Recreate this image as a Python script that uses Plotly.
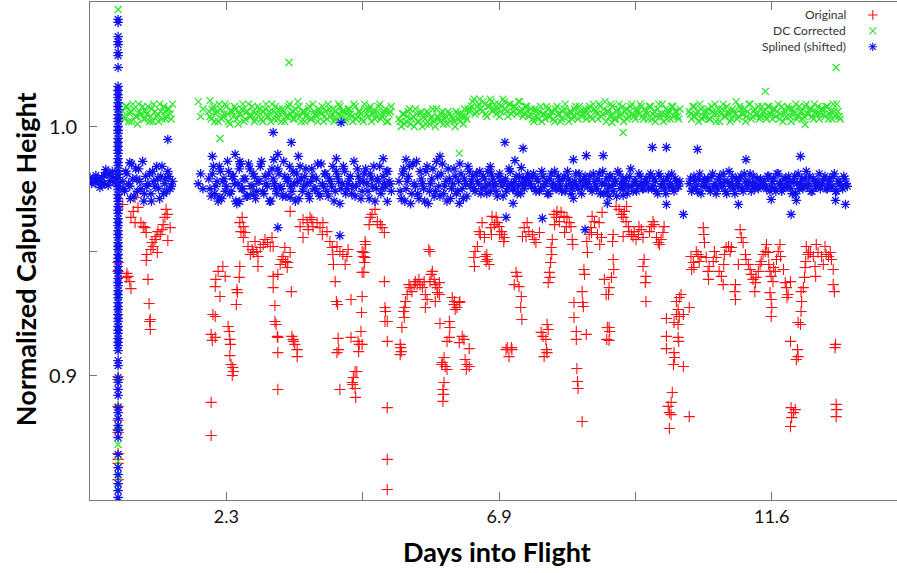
import plotly.graph_objects as go

# ---------------- data (days into flight, normalized height) ----------------
spike_day = 0.48

red_spike_vals = [0.9454, 0.9418, 0.8996, 0.8984, 0.8876, 0.8820, 0.8783, 0.8771, 0.8687, 0.8663, 0.8647, 0.8582]
green_spike_vals = [1.0470, 0.9940, 0.9514, 0.9426, 0.9321, 0.9253, 0.9197, 0.9145, 0.8984, 0.8876, 0.8791, 0.8723, 0.8655, 0.8594, 0.8550]
blue_spike_vals = [1.0430, 1.0418, 1.0361, 1.0341, 1.0329, 1.0297, 1.0285, 1.0237, 1.0161, 1.0145, 1.0128, 1.0116, 1.0096, 1.0080,
                   1.0068, 1.0048, 1.0032, 1.0020, 1.0000, 0.9984, 0.9972, 0.9952, 0.9936, 0.9920, 0.9904, 0.9892, 0.9871, 0.9855,
                   0.9843, 0.9823, 0.9807, 0.9795, 0.9775, 0.9759, 0.9747, 0.9727, 0.9711, 0.9699, 0.9679, 0.9663, 0.9651, 0.9630,
                   0.9614, 0.9602, 0.9582, 0.9566, 0.9554, 0.9534, 0.9518, 0.9506, 0.9486, 0.9470, 0.9458, 0.9438, 0.9422, 0.9410,
                   0.9390, 0.9373, 0.9361, 0.9341, 0.9325, 0.9313, 0.9293, 0.9277, 0.9265, 0.9245, 0.9229, 0.9217, 0.9197, 0.9181,
                   0.9169, 0.9149, 0.9133, 0.9120, 0.9100, 0.9060, 0.9040, 0.8992, 0.8972, 0.8944, 0.8920, 0.8871, 0.8851, 0.8827,
                   0.8799, 0.8779, 0.8751, 0.8683, 0.8630, 0.8602, 0.8566, 0.8538, 0.8510]

blue_left_days = [0.00, 0.03, 0.07, 0.10, 0.14, 0.17, 0.21, 0.24, 0.27, 0.31, 0.34, 0.38, 0.41, 0.44, 0.10, 0.17, 0.24, 0.31, 0.38, 0.05, 0.20, 0.28]
blue_left_vals = [0.9795, 0.9771, 0.9787, 0.9775, 0.9791, 0.9779, 0.9767, 0.9803, 0.9827, 0.9811, 0.9783, 0.9799, 0.9775, 0.9791,
                  0.9803, 0.9755, 0.9771, 0.9763, 0.9819, 0.9783, 0.9795, 0.9815]

red_a_days = [0.56, 0.77, 0.82, 0.74, 0.70, 0.77, 0.87, 0.91, 0.94, 0.96, 1.30, 1.32, 1.28, 1.37, 1.25, 1.16, 1.13, 1.11, 1.20,
              1.08, 1.04, 1.15, 0.97, 0.96, 1.33, 0.65, 0.68, 0.70, 0.99, 1.01, 1.03, 1.02, 1.03, 0.62, 0.63, 1.06, 1.23]
red_a_vals = [0.9687, 0.9715, 0.9675, 0.9659, 0.9635, 0.9614, 0.9614, 0.9598, 0.9594, 0.9574, 0.9667, 0.9647, 0.9635, 0.9594,
              0.9606, 0.9578, 0.9558, 0.9546, 0.9566, 0.9518, 0.9506, 0.9494, 0.9486, 0.9462, 0.9542, 0.9398, 0.9377, 0.9349,
              0.9386, 0.9289, 0.9225, 0.9217, 0.9185, 0.9394, 0.9410, 0.9534, 0.9586]

red_b_days = [2.27, 2.19, 2.31, 2.15, 2.14, 2.22, 2.10, 2.14, 2.07, 2.14, 2.09, 2.07, 2.07, 2.56, 2.58, 2.56, 2.55, 2.51, 2.52, 2.50,
              2.36, 2.38, 2.39, 2.40, 2.39, 2.41, 2.44, 2.45, 2.43, 2.60, 2.62, 2.65, 2.62, 2.70, 2.77, 2.74, 2.79, 2.85, 2.82, 2.91,
              2.87, 2.96, 3.03, 3.08, 2.99, 3.11, 3.13, 2.87, 3.42, 3.33, 3.30, 3.28, 3.34, 3.38, 3.37, 3.25, 3.42, 3.13, 3.21, 3.13,
              3.44, 3.16, 3.16, 3.18, 3.20, 3.21, 3.21, 3.21, 3.45, 3.47, 3.50, 3.54, 3.54, 3.48, 3.59, 3.64, 3.71, 3.76, 3.81, 3.88,
              3.93, 3.98, 4.05, 3.73, 3.64, 3.97, 3.79, 4.10, 4.14, 4.15, 4.16, 4.22, 4.27, 4.32, 4.39, 4.36, 4.41, 4.19, 4.21, 4.23,
              4.24, 4.25, 4.22, 4.27, 4.46, 4.46, 4.50, 4.48, 4.53, 4.56, 4.49, 4.53, 4.54, 4.58, 4.60, 4.59, 4.65, 4.67, 4.65, 4.65,
              4.64, 4.63, 4.87, 4.82, 4.79, 4.91, 4.96, 4.99, 5.03, 4.77, 4.70, 4.71, 4.68, 4.70, 4.69, 4.68, 4.65, 5.03, 5.04, 5.05,
              5.04, 5.08, 5.08, 5.08, 5.08, 5.08]
red_b_vals = [0.9438, 0.9418, 0.9398, 0.9386, 0.9357, 0.9317, 0.9245, 0.9237, 0.9165, 0.9153, 0.9141, 0.8892, 0.8759, 0.9614,
              0.9578, 0.9438, 0.9394, 0.9345, 0.9333, 0.9285, 0.9197, 0.9177, 0.9145, 0.9125, 0.9080, 0.9044, 0.9032, 0.9016,
              0.9000, 0.9635, 0.9598, 0.9574, 0.9554, 0.9518, 0.9506, 0.9486, 0.9494, 0.9498, 0.9538, 0.9514, 0.9478, 0.9526,
              0.9534, 0.9518, 0.9546, 0.9554, 0.9518, 0.9438, 0.9659, 0.9514, 0.9478, 0.9466, 0.9458, 0.9454, 0.9434, 0.9446,
              0.9494, 0.9398, 0.9406, 0.9353, 0.9337, 0.9281, 0.9217, 0.9205, 0.9157, 0.9153, 0.9092, 0.8944, 0.9157, 0.9145,
              0.9125, 0.9104, 0.9076, 0.9137, 0.9598, 0.9626, 0.9614, 0.9635, 0.9598, 0.9614, 0.9594, 0.9614, 0.9578, 0.9586,
              0.9554, 0.9566, 0.9626, 0.9538, 0.9514, 0.9486, 0.9446, 0.9518, 0.9498, 0.9486, 0.9478, 0.9446, 0.9506, 0.9377,
              0.9297, 0.9285, 0.9149, 0.9104, 0.9092, 0.8944, 0.9305, 0.9153, 0.8992, 0.8972, 0.9016, 0.9016, 0.8964, 0.8948,
              0.8912, 0.9137, 0.9125, 0.9096, 0.9498, 0.9478, 0.9414, 0.9317, 0.9253, 0.9177, 0.9667, 0.9647, 0.9635, 0.9618,
              0.9606, 0.9594, 0.9574, 0.9606, 0.9538, 0.9526, 0.9494, 0.9474, 0.9454, 0.9414, 0.9125, 0.9377, 0.9273, 0.9257,
              0.9217, 0.9217, 0.9137, 0.8871, 0.8663, 0.8542]

red_c_days = [5.33, 5.37, 5.36, 5.38, 5.39, 5.42, 5.45, 5.47, 5.50, 5.54, 5.56, 5.59, 5.62, 5.64, 5.68, 5.71, 5.73, 5.76, 5.73, 5.30,
              5.31, 5.32, 5.30, 5.79, 5.81, 5.85, 5.83, 5.88, 5.81, 5.90, 5.93, 5.97, 5.94, 5.90, 5.97, 5.98, 6.14, 6.15, 6.14, 6.10,
              6.19, 6.22, 6.24, 6.31, 6.27, 6.32, 6.23, 6.05, 6.02, 6.07, 6.01, 6.10, 6.05, 6.03, 6.04, 6.03, 6.36, 6.39, 6.31, 6.48,
              6.41, 6.44, 6.48, 6.43, 6.67, 6.65, 6.62, 6.58, 6.56, 6.57, 6.70, 6.75, 6.77, 6.78, 6.79, 6.82, 6.74, 6.87, 6.94, 6.91,
              6.96, 6.99, 7.03, 7.04, 7.08, 7.07, 6.85, 6.86, 7.00, 7.28, 7.30, 7.25, 7.33, 7.37, 7.36, 7.38, 7.13, 7.20, 7.21, 7.16,
              7.11, 7.42, 7.47, 7.45, 7.50, 7.56, 7.59, 7.62, 7.68, 7.39, 7.90, 7.88, 7.89, 7.87, 7.85, 7.86, 7.83, 7.71, 7.74, 7.79,
              7.81, 7.83, 7.81, 7.80, 7.76, 7.93, 7.98, 8.05, 7.97, 8.02, 8.10, 8.14, 8.19, 8.15, 8.22, 8.11, 7.94, 8.24, 8.25, 8.27,
              8.27, 8.31, 8.31, 8.48, 8.32, 8.33, 8.34, 8.41, 8.41, 8.42, 8.43, 8.44, 8.45, 8.50, 8.49, 8.53, 8.56, 8.62, 8.58, 8.70,
              8.67, 8.71, 8.74, 8.75, 8.57, 8.79, 8.82, 8.84, 8.83, 8.99, 9.04, 9.08, 9.13, 9.11, 9.16, 9.20, 9.21, 9.25, 9.28, 9.33,
              9.30, 9.38, 9.42, 9.37, 9.45, 9.56, 9.59, 9.62, 9.64, 9.68, 9.71, 9.73, 9.76, 9.79, 9.81, 9.17, 8.94, 8.93, 9.11, 8.94,
              8.95, 8.91, 8.87, 8.86, 8.87, 8.88, 8.87, 9.47, 9.45, 9.50, 9.49, 9.50, 10.02, 10.07, 10.10, 10.05, 10.02, 10.07, 10.14, 9.98,
              10.05, 9.85, 10.24, 9.85, 10.05, 10.06, 9.85, 9.98, 9.99, 9.97, 10.14, 9.95, 9.93, 9.88, 9.90, 9.93, 9.90, 10.24, 10.27, 10.31,
              10.32, 10.36, 10.39, 10.41, 10.48, 10.49, 10.50, 10.44, 10.53, 10.56, 10.57, 10.58, 10.65, 10.67, 10.70, 10.75, 10.79, 10.82,
              10.84, 10.87, 10.91, 10.83, 10.28, 10.96, 10.94, 11.11, 11.13, 11.16, 11.20, 11.21, 11.25, 11.28, 11.30, 11.33, 11.37, 11.38,
              11.36, 11.08, 11.42, 11.45, 11.47, 11.50, 11.54, 11.56, 11.59, 11.03, 11.02, 11.03, 11.60, 11.62, 11.64, 11.68, 11.67, 11.71,
              11.62, 11.64, 11.65, 11.64, 11.79, 11.76, 11.80, 11.73, 11.85, 11.88, 11.90, 11.93, 11.91, 11.97, 11.97, 12.09, 12.10, 12.07,
              12.15, 12.19, 12.16, 12.15, 12.10, 12.14, 12.21, 12.22, 12.23, 12.24, 12.27, 12.31, 12.36, 12.39, 12.41, 12.44, 12.50, 12.53,
              12.56, 12.58, 12.62, 12.65, 12.67, 12.70, 12.40, 12.28, 12.70, 12.72, 12.74, 12.73, 11.98, 12.02, 11.99, 12.05, 11.97, 12.75,
              12.76, 12.75]
red_c_vals = [0.9193, 0.9233, 0.9257, 0.9273, 0.9297, 0.9325, 0.9365, 0.9353, 0.9337, 0.9365, 0.9377, 0.9365, 0.9386, 0.9365,
              0.9353, 0.9377, 0.9325, 0.9305, 0.9273, 0.9125, 0.9112, 0.9096, 0.9084, 0.9506, 0.9498, 0.9418, 0.9406, 0.9386,
              0.9377, 0.9365, 0.9353, 0.9373, 0.9333, 0.9297, 0.9325, 0.9209, 0.9217, 0.9193, 0.9153, 0.9137, 0.9313, 0.9285,
              0.9265, 0.9293, 0.9273, 0.9297, 0.9297, 0.9072, 0.9052, 0.9036, 0.9044, 0.9024, 0.8972, 0.8944, 0.8924, 0.8896,
              0.9157, 0.9145, 0.9132, 0.9108, 0.9064, 0.9044, 0.9036, 0.9024, 0.9566, 0.9578, 0.9518, 0.9498, 0.9474, 0.9438,
              0.9614, 0.9478, 0.9458, 0.9486, 0.9466, 0.9446, 0.9554, 0.9639, 0.9635, 0.9606, 0.9614, 0.9598, 0.9578, 0.9566,
              0.9554, 0.9538, 0.9594, 0.9566, 0.9566, 0.9414, 0.9398, 0.9365, 0.9357, 0.9317, 0.9273, 0.9225, 0.9112, 0.9112,
              0.9104, 0.9076, 0.9104, 0.9594, 0.9614, 0.9558, 0.9578, 0.9566, 0.9546, 0.9534, 0.9574, 0.9558, 0.9546, 0.9514,
              0.9486, 0.9454, 0.9414, 0.9394, 0.9373, 0.9173, 0.9157, 0.9145, 0.9205, 0.9185, 0.9092, 0.9104, 0.9076, 0.9647,
              0.9659, 0.9655, 0.9635, 0.9618, 0.9639, 0.9598, 0.9614, 0.9635, 0.9598, 0.9574, 0.9606, 0.9546, 0.9526, 0.9293,
              0.9233, 0.9177, 0.9145, 0.9165, 0.9028, 0.8976, 0.8948, 0.8815, 0.9337, 0.9293, 0.9277, 0.9426, 0.9406, 0.9494,
              0.9538, 0.9566, 0.9594, 0.9618, 0.9639, 0.9614, 0.9566, 0.9526, 0.9554, 0.9655, 0.9574, 0.9386, 0.9325, 0.9193,
              0.9145, 0.9679, 0.9667, 0.9647, 0.9659, 0.9635, 0.9618, 0.9598, 0.9578, 0.9566, 0.9558, 0.9546, 0.9578, 0.9598,
              0.9586, 0.9566, 0.9554, 0.9578, 0.9598, 0.9618, 0.9606, 0.9554, 0.9534, 0.9526, 0.9546, 0.9574, 0.9598, 0.9679,
              0.9566, 0.9538, 0.9558, 0.9466, 0.9426, 0.9394, 0.9353, 0.9325, 0.9193, 0.9177, 0.9141, 0.9466, 0.9438, 0.9398,
              0.9373, 0.9297, 0.9297, 0.9313, 0.9325, 0.9265, 0.9245, 0.9237, 0.9245, 0.9213, 0.9205, 0.9229, 0.9273, 0.9157,
              0.9153, 0.9137, 0.9108, 0.9092, 0.9072, 0.9044, 0.9036, 0.8932, 0.8892, 0.8876, 0.8851, 0.8843, 0.8787, 0.8835,
              0.9478, 0.9454, 0.9434, 0.9498, 0.9486, 0.9458, 0.9594, 0.9566, 0.9534, 0.9478, 0.9474, 0.9418, 0.9386, 0.9438,
              0.9458, 0.9498, 0.9474, 0.9418, 0.9398, 0.9365, 0.9486, 0.9514, 0.9518, 0.9446, 0.9426, 0.9514, 0.9498, 0.9586,
              0.9554, 0.9534, 0.9486, 0.9466, 0.9446, 0.9426, 0.9406, 0.9386, 0.9373, 0.9394, 0.9337, 0.9446, 0.9418, 0.9446,
              0.9458, 0.9486, 0.9498, 0.9526, 0.9494, 0.9365, 0.9337, 0.9305, 0.9446, 0.9418, 0.9398, 0.9434, 0.9377, 0.9418,
              0.9333, 0.9305, 0.9273, 0.9237, 0.9526, 0.9498, 0.9478, 0.9466, 0.9426, 0.9373, 0.9353, 0.9325, 0.9313, 0.9377,
              0.9137, 0.9104, 0.9076, 0.9064, 0.9337, 0.9353, 0.9297, 0.9257, 0.9213, 0.9205, 0.9394, 0.9434, 0.9458, 0.9518,
              0.9486, 0.9494, 0.9478, 0.9438, 0.9526, 0.9494, 0.9478, 0.9446, 0.9518, 0.9486, 0.9478, 0.9494, 0.9466, 0.9426,
              0.9398, 0.9494, 0.9365, 0.9337, 0.9125, 0.9112, 0.8871, 0.8851, 0.8831, 0.8863, 0.8795, 0.8884, 0.8863, 0.8835]

# regular band samples (DC corrected = green, splined = blue)
band_a_days = [0.56, 0.59, 0.63, 0.68, 0.71, 0.75, 0.80, 0.83, 0.87, 0.92, 0.95, 0.99, 1.04, 1.07, 1.11, 1.16, 1.19, 1.23, 1.28, 1.31, 1.35, 1.39,
               0.58, 0.61, 0.66, 0.69, 0.73, 0.78, 0.81, 0.85, 0.90, 0.93, 0.97, 1.02, 1.05, 1.09, 1.14, 1.17, 1.21, 1.26, 1.29, 1.33, 1.37, 1.41]
green_a_vals = [1.006, 1.003, 1.008, 1.005, 1.002, 1.007, 1.004, 1.009, 1.005, 1.003, 1.006, 1.008, 1.004, 1.002, 1.006, 1.005, 1.009, 1.003, 1.006, 1.004, 1.007, 1.003,
                1.004, 1.008, 1.002, 1.006, 1.009, 1.004, 1.001, 1.006, 1.008, 1.003, 1.005, 1.002, 1.007, 1.009, 1.004, 1.002, 1.006, 1.008, 1.003, 1.007, 1.005, 1.009]
blue_a_vals = [0.978, 0.974, 0.981, 0.976, 0.985, 0.972, 0.979, 0.983, 0.975, 0.970, 0.980, 0.977, 0.973, 0.982, 0.976, 0.979, 0.971, 0.984, 0.977, 0.974, 0.980, 0.976,
               0.975, 0.982, 0.977, 0.971, 0.979, 0.983, 0.974, 0.978, 0.986, 0.973, 0.976, 0.981, 0.970, 0.978, 0.984, 0.975, 0.980, 0.973, 0.979, 0.982, 0.975, 0.978]

band_b_days = [1.85, 1.89, 1.93,
               2.03, 2.07, 2.11, 2.15, 2.19, 2.23, 2.27, 2.31, 2.35, 2.39, 2.43, 2.47, 2.51, 2.55, 2.59, 2.63, 2.67, 2.71, 2.75, 2.79,
               2.83, 2.87, 2.91, 2.95, 2.99, 3.03, 3.07, 3.11, 3.15, 3.19, 3.23, 3.27, 3.31, 3.35, 3.39, 3.43, 3.47, 3.51, 3.55, 3.59,
               3.63, 3.67, 3.71, 3.75, 3.79, 3.83, 3.87, 3.91, 3.95, 3.99, 4.03, 4.07, 4.11, 4.15, 4.19, 4.23, 4.27, 4.31, 4.35, 4.39,
               4.43, 4.47, 4.51, 4.55, 4.59, 4.63, 4.67, 4.71, 4.75, 4.79, 4.83, 4.87, 4.91, 4.95, 4.99, 5.03, 5.07, 5.11, 5.15]
green_b_vals = [1.010, 1.004, 1.007,
                1.006, 1.003, 1.008, 1.005, 1.002, 1.007, 1.004, 1.009, 1.005, 1.001, 1.006, 1.008, 1.003, 1.005, 1.007, 1.002, 1.006,
                1.009, 1.004, 1.006, 1.003, 1.008, 1.005, 1.002, 1.007, 1.004, 1.006, 1.009, 1.003, 1.005, 1.007, 1.002, 1.006, 1.004,
                1.008, 1.005, 1.003, 1.007, 1.010, 1.004, 1.006, 1.002, 1.005, 1.008, 1.003, 1.006, 1.004, 1.007, 1.005, 1.002, 1.006,
                1.009, 1.004, 1.007, 1.003, 1.005, 1.008, 1.006, 1.002, 1.005, 1.007, 1.004, 1.009, 1.003, 1.006, 1.005, 1.002, 1.007,
                1.004, 1.008, 1.005, 1.003, 1.006, 1.009, 1.004, 1.006, 1.002, 1.005, 1.008]
blue_b_vals = [0.977, 0.981, 0.975,
               0.979, 0.972, 0.984, 0.976, 0.970, 0.982, 0.978, 0.974, 0.986, 0.973, 0.980, 0.977, 0.969, 0.983, 0.975, 0.979, 0.972,
               0.985, 0.976, 0.981, 0.971, 0.978, 0.984, 0.974, 0.980, 0.976, 0.970, 0.983, 0.977, 0.973, 0.981, 0.975, 0.986, 0.972,
               0.979, 0.976, 0.982, 0.970, 0.978, 0.984, 0.974, 0.980, 0.977, 0.971, 0.983, 0.975, 0.979, 0.973, 0.985, 0.976, 0.981,
               0.972, 0.978, 0.984, 0.974, 0.980, 0.969, 0.977, 0.982, 0.975, 0.979, 0.973, 0.986, 0.976, 0.980, 0.971, 0.978, 0.983,
               0.974, 0.981, 0.976, 0.970, 0.979, 0.984, 0.975, 0.977, 0.982, 0.978, 0.974]

band_b2_days = [2.05, 2.09, 2.13, 2.17, 2.21, 2.25, 2.29, 2.33, 2.37, 2.41, 2.45, 2.49, 2.53, 2.57, 2.61, 2.65, 2.69, 2.73, 2.77, 2.81,
                2.85, 2.89, 2.93, 2.97, 3.01, 3.05, 3.09, 3.13, 3.17, 3.21, 3.25, 3.29, 3.33, 3.37, 3.41, 3.45, 3.49, 3.53, 3.57, 3.61,
                3.65, 3.69, 3.73, 3.77, 3.81, 3.85, 3.89, 3.93, 3.97, 4.01, 4.05, 4.09, 4.13, 4.17, 4.21, 4.25, 4.29, 4.33, 4.37, 4.41,
                4.45, 4.49, 4.53, 4.57, 4.61, 4.65, 4.69, 4.73, 4.77, 4.81, 4.85, 4.89, 4.93, 4.97, 5.01, 5.05, 5.09, 5.13]
green_b2_vals = [1.004, 1.007, 1.002, 1.006, 1.009, 1.003, 1.005, 1.008, 1.002, 1.006,
                 1.004, 1.007, 1.001, 1.005, 1.009, 1.003, 1.006, 1.004, 1.008, 1.002,
                 1.005, 1.007, 1.003, 1.006, 1.009, 1.004, 1.002, 1.006, 1.008, 1.003,
                 1.005, 1.007, 1.002, 1.004, 1.009, 1.006, 1.003, 1.005, 1.008, 1.002,
                 1.006, 1.004, 1.007, 1.003, 1.009, 1.005, 1.002, 1.006, 1.008, 1.004,
                 1.003, 1.007, 1.005, 1.002, 1.006, 1.009, 1.004, 1.006, 1.003, 1.007,
                 1.005, 1.002, 1.008, 1.004, 1.006, 1.003, 1.009, 1.005, 1.007, 1.002,
                 1.006, 1.004, 1.008, 1.003, 1.005, 1.007, 1.002, 1.006]
blue_b2_vals = [0.975, 0.981, 0.973, 0.978, 0.984, 0.971, 0.979, 0.976, 0.982, 0.974,
                0.980, 0.970, 0.977, 0.985, 0.975, 0.979, 0.972, 0.983, 0.976, 0.980,
                0.974, 0.978, 0.986, 0.973, 0.977, 0.981, 0.970, 0.979, 0.975, 0.983,
                0.976, 0.972, 0.980, 0.978, 0.984, 0.974, 0.977, 0.981, 0.971, 0.979,
                0.976, 0.983, 0.973, 0.978, 0.980, 0.975, 0.985, 0.972, 0.977, 0.981,
                0.974, 0.979, 0.976, 0.970, 0.982, 0.978, 0.975, 0.984, 0.973, 0.977,
                0.980, 0.976, 0.972, 0.983, 0.978, 0.974, 0.981, 0.977, 0.971, 0.979,
                0.984, 0.975, 0.978, 0.973, 0.980, 0.976, 0.982, 0.977]

band_c_days = [5.28, 5.32, 5.36, 5.40, 5.44, 5.48, 5.52, 5.56, 5.60, 5.64, 5.68, 5.72, 5.76, 5.80, 5.84, 5.88, 5.92, 5.96, 6.00, 6.04,
               6.08, 6.12, 6.16, 6.20, 6.24, 6.28, 6.32, 6.36, 6.40, 6.44, 6.48,
               6.52, 6.56, 6.60, 6.64, 6.68, 6.72, 6.76, 6.80, 6.84, 6.88, 6.92, 6.96, 7.00, 7.04, 7.08, 7.12, 7.16, 7.20, 7.24, 7.28,
               7.32, 7.36, 7.40, 7.44, 7.48,
               7.52, 7.56, 7.60, 7.64, 7.68, 7.72, 7.76, 7.80, 7.84, 7.88, 7.92, 7.96, 8.00, 8.04, 8.08, 8.12, 8.16, 8.20, 8.24, 8.28,
               8.32, 8.36, 8.40, 8.44, 8.48,
               8.52, 8.56, 8.60, 8.64, 8.68, 8.72, 8.76, 8.80, 8.84, 8.88, 8.92, 8.96, 9.00, 9.04, 9.08, 9.12, 9.16, 9.20, 9.24, 9.28,
               9.32, 9.36, 9.40, 9.44, 9.48,
               9.52, 9.56, 9.60, 9.64, 9.68, 9.72, 9.76, 9.80, 9.84, 9.88, 9.92, 9.96, 10.00, 10.04, 10.08,
               10.24, 10.28, 10.32, 10.36, 10.40, 10.44, 10.48,
               10.52, 10.56, 10.60, 10.64, 10.68, 10.72, 10.76, 10.80, 10.84, 10.88, 10.92, 10.96, 11.00, 11.04, 11.08, 11.12, 11.16,
               11.20, 11.24, 11.28, 11.32, 11.36, 11.40, 11.44, 11.48,
               11.52, 11.56, 11.60, 11.64, 11.68, 11.72, 11.76, 11.80, 11.84, 11.88, 11.92, 11.96, 12.00, 12.04, 12.08, 12.12, 12.16,
               12.20, 12.24, 12.28, 12.32, 12.36, 12.40, 12.44, 12.48,
               12.52, 12.56, 12.60, 12.64, 12.68, 12.72, 12.76, 12.80, 12.84, 12.88, 12.92]
green_c_vals = [1.003, 1.000, 1.005, 1.002, 1.006, 1.001, 1.004, 1.007, 1.002, 1.005, 1.000, 1.003, 1.006, 1.001, 1.004, 1.002,
                1.007, 1.003, 1.005, 1.001, 1.004, 1.006, 1.002, 1.003, 1.000, 1.005, 1.002, 1.004, 1.007, 1.003, 1.006,
                1.008, 1.011, 1.006, 1.009, 1.007, 1.010, 1.005, 1.008, 1.011, 1.006, 1.009, 1.007, 1.004, 1.008, 1.010, 1.006,
                1.009, 1.005, 1.008, 1.007, 1.010, 1.006, 1.004, 1.008, 1.006,
                1.005, 1.003, 1.007, 1.004, 1.006, 1.002, 1.005, 1.008, 1.004, 1.006, 1.003, 1.007, 1.005, 1.002, 1.006, 1.009,
                1.004, 1.006, 1.003, 1.007, 1.005, 1.008, 1.004, 1.006, 1.003,
                1.007, 1.004, 1.009, 1.006, 1.003, 1.008, 1.005, 1.010, 1.006, 1.004, 1.008, 1.003, 1.006, 1.009, 1.005, 1.002,
                1.007, 1.004, 1.008, 1.005, 1.003, 1.006, 1.009, 1.004, 1.007,
                1.005, 1.008, 1.003, 1.006, 1.004, 1.009, 1.005, 1.002, 1.007, 1.005, 1.003, 1.008, 1.006, 1.004, 1.007,
                1.006, 1.003, 1.008, 1.005, 1.002, 1.007, 1.004,
                1.004, 1.007, 1.003, 1.006, 1.009, 1.005, 1.002, 1.007, 1.004, 1.008, 1.005, 1.003, 1.006, 1.010, 1.004, 1.007,
                1.005, 1.002, 1.006, 1.009, 1.004, 1.007, 1.005, 1.003, 1.008,
                1.006, 1.003, 1.008, 1.005, 1.007, 1.004, 1.009, 1.005, 1.002, 1.006, 1.008, 1.004, 1.007, 1.005, 1.003, 1.008,
                1.006, 1.004, 1.009, 1.005, 1.007, 1.003, 1.006, 1.008, 1.005,
                1.007, 1.004, 1.008, 1.005, 1.003, 1.006, 1.009, 1.004, None, None, None]
blue_c_vals = [0.978, 0.971, 0.983, 0.975, 0.980, 0.969, 0.985, 0.976, 0.973, 0.982, 0.977, 0.970, 0.984, 0.974, 0.979, 0.972,
               0.986, 0.976, 0.981, 0.973, 0.978, 0.983, 0.971, 0.977, 0.980, 0.974, 0.985, 0.975, 0.979, 0.972, 0.982,
               0.978, 0.975, 0.981, 0.977, 0.973, 0.980, 0.976, 0.982, 0.974, 0.979, 0.977, 0.972, 0.981, 0.976, 0.978, 0.974,
               0.983, 0.977, 0.975, 0.980, 0.976, 0.973, 0.979, 0.977, 0.981,
               0.977, 0.980, 0.975, 0.979, 0.974, 0.982, 0.976, 0.978, 0.973, 0.981, 0.977, 0.975, 0.980, 0.976, 0.979, 0.974,
               0.982, 0.977, 0.975, 0.978, 0.976, 0.981, 0.973, 0.979, 0.977,
               0.978, 0.975, 0.981, 0.976, 0.979, 0.973, 0.982, 0.977, 0.974, 0.980, 0.976, 0.978, 0.972, 0.981, 0.977, 0.975,
               0.979, 0.976, 0.983, 0.974, 0.978, 0.976, 0.980, 0.975, 0.978,
               0.977, 0.980, 0.975, 0.979, 0.974, 0.981, 0.976, 0.978, 0.973, 0.980, 0.977, 0.975, 0.979, 0.976, 0.978,
               0.977, 0.974, 0.980, 0.976, 0.979, 0.973, 0.978,
               0.976, 0.979, 0.974, 0.981, 0.977, 0.975, 0.980, 0.976, 0.978, 0.973, 0.982, 0.977, 0.975, 0.979, 0.976, 0.980,
               0.974, 0.978, 0.976, 0.981, 0.977, 0.975, 0.979, 0.976, 0.978,
               0.978, 0.975, 0.980, 0.976, 0.979, 0.974, 0.981, 0.977, 0.975, 0.979, 0.976, 0.978, 0.973, 0.980, 0.977, 0.975,
               0.979, 0.976, 0.982, 0.977, 0.974, 0.979, 0.976, 0.978, 0.975,
               0.977, 0.980, 0.975, 0.979, 0.976, 0.981, 0.974, 0.978, 0.976, 0.980, 0.977]

band_c2_days = [5.30, 5.34, 5.38, 5.42, 5.46, 5.50, 5.54, 5.58, 5.62, 5.66, 5.70, 5.74, 5.78, 5.82, 5.86, 5.90, 5.94, 5.98, 6.02, 6.06,
                6.10, 6.14, 6.18, 6.22, 6.26, 6.30, 6.34, 6.38, 6.42, 6.46,
                6.50, 6.54, 6.58, 6.62, 6.66, 6.70, 6.74, 6.78, 6.82, 6.86, 6.90, 6.94, 6.98, 7.02, 7.06, 7.10, 7.14, 7.18, 7.22, 7.26,
                7.30, 7.34, 7.38, 7.42, 7.46,
                7.50, 7.54, 7.58, 7.62, 7.66, 7.70, 7.74, 7.78, 7.82, 7.86, 7.90, 7.94, 7.98, 8.02, 8.06, 8.10, 8.14, 8.18, 8.22, 8.26,
                8.30, 8.34, 8.38, 8.42, 8.46,
                8.50, 8.54, 8.58, 8.62, 8.66, 8.70, 8.74, 8.78, 8.82, 8.86, 8.90, 8.94, 8.98, 9.02, 9.06, 9.10, 9.14, 9.18, 9.22, 9.26,
                9.30, 9.34, 9.38, 9.42, 9.46,
                9.50, 9.54, 9.58, 9.62, 9.66, 9.70, 9.74, 9.78, 9.82, 9.86, 9.90, 9.94, 9.98, 10.02, 10.06,
                10.26, 10.30, 10.34, 10.38, 10.42, 10.46, 10.50,
                10.54, 10.58, 10.62, 10.66, 10.70, 10.74, 10.78, 10.82, 10.86, 10.90, 10.94, 10.98, 11.02, 11.06, 11.10, 11.14, 11.18,
                11.22, 11.26, 11.30, 11.34, 11.38, 11.42, 11.46, 11.50,
                11.54, 11.58, 11.62, 11.66, 11.70, 11.74, 11.78, 11.82, 11.86, 11.90, 11.94, 11.98, 12.02, 12.06, 12.10, 12.14, 12.18,
                12.22, 12.26, 12.30, 12.34, 12.38, 12.42, 12.46, 12.50,
                12.54, 12.58, 12.62, 12.66, 12.70, 12.74, 12.78, 12.82, 12.86, 12.90, 12.94]
green_c2_vals = [1.002, 1.005, 1.001, 1.004, 1.007, 1.003, 1.000, 1.005, 1.002, 1.006, 1.004, 1.001, 1.005, 1.003, 1.007, 1.000,
                 1.004, 1.002, 1.006, 1.003, 1.001, 1.005, 1.004, 1.002, 1.006, 1.003, 1.005, 1.001, 1.004, 1.007,
                 1.007, 1.010, 1.005, 1.008, 1.011, 1.006, 1.009, 1.004, 1.008, 1.010, 1.007, 1.005, 1.009, 1.006, 1.011, 1.007,
                 1.004, 1.009, 1.006, 1.008, 1.005, 1.010, 1.007, 1.005, 1.008,
                 1.004, 1.007, 1.002, 1.006, 1.003, 1.008, 1.005, 1.003, 1.007, 1.004, 1.006, 1.002, 1.008, 1.005, 1.003, 1.007,
                 1.005, 1.002, 1.006, 1.004, 1.008, 1.003, 1.006, 1.005, 1.007,
                 1.005, 1.008, 1.003, 1.007, 1.005, 1.009, 1.004, 1.007, 1.002, 1.006, 1.009, 1.005, 1.003, 1.007, 1.004, 1.008,
                 1.006, 1.003, 1.006, 1.009, 1.004, 1.007, 1.005, 1.008, 1.003,
                 1.006, 1.003, 1.008, 1.005, 1.002, 1.007, 1.004, 1.009, 1.005, 1.003, 1.006, 1.008, 1.004, 1.006, 1.003,
                 1.005, 1.008, 1.004, 1.006, 1.009, 1.003, 1.006,
                 1.006, 1.003, 1.008, 1.005, 1.002, 1.007, 1.005, 1.009, 1.004, 1.006, 1.002, 1.007, 1.005, 1.003, 1.008, 1.005,
                 1.007, 1.004, 1.009, 1.003, 1.006, 1.005, 1.008, 1.004, 1.006,
                 1.004, 1.008, 1.005, 1.003, 1.007, 1.006, 1.003, 1.008, 1.005, 1.004, 1.007, 1.002, 1.006, 1.009, 1.004, 1.006,
                 1.003, 1.008, 1.005, 1.007, 1.004, 1.009, 1.005, 1.003, 1.007,
                 1.005, 1.008, 1.003, 1.006, 1.009, 1.004, 1.006, 1.003, None, None, None]
blue_c2_vals = [0.974, 0.981, 0.970, 0.978, 0.984, 0.973, 0.977, 0.986, 0.971, 0.979, 0.975, 0.982, 0.969, 0.977, 0.983, 0.974,
                0.980, 0.972, 0.985, 0.976, 0.970, 0.979, 0.975, 0.983, 0.973, 0.978, 0.981, 0.971, 0.977, 0.984,
                0.976, 0.980, 0.974, 0.978, 0.982, 0.975, 0.979, 0.973, 0.977, 0.981, 0.976, 0.974, 0.980, 0.978, 0.972, 0.979,
                0.976, 0.982, 0.975, 0.978, 0.973, 0.980, 0.977, 0.975, 0.979,
                0.979, 0.976, 0.981, 0.974, 0.978, 0.975, 0.980, 0.977, 0.973, 0.979, 0.976, 0.982, 0.975, 0.978, 0.974, 0.980,
                0.976, 0.979, 0.973, 0.977, 0.981, 0.975, 0.978, 0.976, 0.980,
                0.976, 0.980, 0.974, 0.978, 0.975, 0.981, 0.977, 0.973, 0.979, 0.976, 0.980, 0.974, 0.978, 0.982, 0.975, 0.979,
                0.977, 0.973, 0.980, 0.976, 0.978, 0.974, 0.981, 0.977, 0.975,
                0.979, 0.975, 0.981, 0.976, 0.978, 0.973, 0.980, 0.977, 0.975, 0.979, 0.976, 0.981, 0.974, 0.978, 0.976,
                0.979, 0.975, 0.978, 0.974, 0.981, 0.976, 0.979,
                0.978, 0.975, 0.980, 0.976, 0.973, 0.979, 0.977, 0.981, 0.974, 0.978, 0.976, 0.980, 0.973, 0.977, 0.979, 0.975,
                0.981, 0.976, 0.978, 0.974, 0.980, 0.977, 0.975, 0.979, 0.976,
                0.976, 0.980, 0.974, 0.978, 0.975, 0.981, 0.977, 0.974, 0.979, 0.976, 0.980, 0.975, 0.978, 0.973, 0.981, 0.977,
                0.975, 0.979, 0.976, 0.980, 0.974, 0.978, 0.976, 0.981, 0.977,
                0.979, 0.975, 0.978, 0.976, 0.980, 0.974, 0.978, 0.977, 0.975, 0.979, 0.976]

green_out_days = [3.40, 12.75, 11.54, 2.22, 2.05, 6.31, 9.11, 8.92, 12.22]
green_out_vals = [1.0257, 1.0237, 1.0141, 0.9952, 1.0104, 0.9892, 0.9976, 1.0016, 1.0008]

blue_out_days = [1.33, 0.68, 2.09, 2.48, 2.56, 3.13, 3.14, 3.21, 3.44, 3.56, 4.21, 4.29, 5.01, 5.08, 2.79, 2.56, 2.22, 3.42, 3.21,
                 4.27, 5.40, 5.98, 7.09, 7.40, 7.26, 7.37, 6.84, 6.31, 7.23, 7.11, 7.73, 8.26, 8.48, 8.77, 8.26, 8.87, 9.11, 8.84,
                 8.46, 9.85, 10.14, 11.08, 11.64, 12.07, 11.98, 12.74, 12.91, 9.61, 9.85, 10.38, 11.21, 12.14]
blue_out_vals = [0.9948, 0.9855, 0.9880, 0.9888, 0.9859, 0.9976, 0.9867, 0.9888, 0.9936, 0.9880, 0.9871, 1.0016, 0.9871, 0.9699,
                 0.9727, 0.9699, 0.9715, 0.9715, 0.9594, 0.9562, 0.9867, 0.9880, 0.9936, 0.9912, 0.9863, 0.9835, 0.9839, 0.9691,
                 0.9691, 0.9635, 0.9631, 0.9867, 0.9883, 0.9883, 0.9711, 0.9719, 0.9723, 0.9691, 0.9586, 0.9687, 0.9647, 0.9687,
                 0.9707, 0.9703, 0.9647, 0.9703, 0.9687, 0.9916, 0.9916, 0.9908, 0.9867, 0.9880]

x_tick_vals = [2.33, 4.66, 6.99, 9.32, 11.65]
x_tick_text = ["2.3", "", "6.9", "", "11.6"]
y_tick_vals = [0.90, 0.95, 1.00]
y_tick_text = ["0.9", "", "1.0"]
legend_names = ["Original", "DC Corrected", "Splined (shifted)"]

# ---------------- assemble ----------------
def pairs(days, vals):
    out_x, out_y = [], []
    for d, v in zip(days, vals):
        if v is not None:
            out_x.append(d)
            out_y.append(v)
    return out_x, out_y

RED = "#ff1010"
GREEN = "#2ee82e"
BLUE = "#1010f0"

rx, ry = [], []
for days, vals in [([spike_day] * len(red_spike_vals), red_spike_vals), (red_a_days, red_a_vals),
                   (red_b_days, red_b_vals), (red_c_days, red_c_vals)]:
    a, b = pairs(days, vals); rx += a; ry += b

gx, gy = [], []
for days, vals in [(band_a_days, green_a_vals), (band_b_days, green_b_vals), (band_b2_days, green_b2_vals),
                   (band_c_days, green_c_vals), (band_c2_days, green_c2_vals),
                   (green_out_days, green_out_vals), ([spike_day] * len(green_spike_vals), green_spike_vals)]:
    a, b = pairs(days, vals); gx += a; gy += b

bx, by = [], []
for days, vals in [(blue_left_days, blue_left_vals), (band_a_days, blue_a_vals), (band_b_days, blue_b_vals),
                   (band_b2_days, blue_b2_vals), (band_c_days, blue_c_vals), (band_c2_days, blue_c2_vals),
                   (blue_out_days, blue_out_vals), ([spike_day] * len(blue_spike_vals), blue_spike_vals)]:
    a, b = pairs(days, vals); bx += a; by += b

fig = go.Figure()
fig.add_trace(go.Scatter(x=rx, y=ry, mode="markers", name=legend_names[0],
                         marker=dict(symbol="cross-thin-open", size=8, color=RED, line=dict(color=RED, width=1.1))))
fig.add_trace(go.Scatter(x=gx, y=gy, mode="markers", name=legend_names[1],
                         marker=dict(symbol="x-thin-open", size=7, color=GREEN, line=dict(color=GREEN, width=1.3))))
fig.add_trace(go.Scatter(x=bx, y=by, mode="markers", name=legend_names[2],
                         marker=dict(symbol="asterisk-open", size=8, color=BLUE, line=dict(color=BLUE, width=1.3))))

# manual legend (symbol to the right of the text, as in the original)
leg_y = [0.974, 0.942, 0.910]
leg_sym = ["cross-thin-open", "x-thin-open", "asterisk-open"]
leg_col = [RED, GREEN, BLUE]
for name, yy, sym, col in zip(legend_names, leg_y, leg_sym, leg_col):
    fig.add_trace(go.Scatter(x=[0.970], y=[yy], xaxis="x2", yaxis="y2", mode="markers", showlegend=False,
                             marker=dict(symbol=sym, size=7, color=col, line=dict(color=col, width=1.1))))
    fig.add_annotation(x=0.939, y=yy, xref="paper", yref="paper", xanchor="right", yanchor="middle",
                       text=name, showarrow=False, font=dict(family="Lato", size=12, color="#333333"))

fig.add_annotation(x=0.504, y=-0.104, xref="paper", yref="paper", xanchor="center", yanchor="middle",
                   text="<b>Days into Flight</b>", showarrow=False,
                   font=dict(family="Lato", size=27, color="#000000"))
fig.add_annotation(x=-0.079, y=0.484, xref="paper", yref="paper", xanchor="center", yanchor="middle",
                   text="<b>Normalized Calpulse Height</b>", textangle=-90, showarrow=False,
                   font=dict(family="Lato", size=27, color="#000000"))

fig.update_layout(
    width=897, height=573,
    margin=dict(l=90, r=0, t=2, b=73),
    paper_bgcolor="white", plot_bgcolor="white",
    showlegend=False,
    xaxis=dict(range=[0, 13.79], tickmode="array", tickvals=x_tick_vals, ticktext=x_tick_text,
               ticks="inside", ticklen=8, tickcolor="#777777", showline=True, linecolor="#777777",
               linewidth=1, mirror="ticks", showgrid=False, zeroline=False,
               tickfont=dict(family="Lato", size=18, color="#111111")),
    yaxis=dict(range=[0.85, 1.05], tickmode="array", tickvals=y_tick_vals, ticktext=y_tick_text,
               ticks="inside", ticklen=7, tickcolor="#777777", showline=True, linecolor="#777777",
               linewidth=1, showgrid=False, zeroline=False, ticklabelstandoff=8,
               tickfont=dict(family="Lato", size=20, color="#111111")),
    xaxis2=dict(overlaying="x", range=[0, 1], visible=False),
    yaxis2=dict(overlaying="y", range=[0, 1], visible=False),
)

fig.write_html("out.html")
